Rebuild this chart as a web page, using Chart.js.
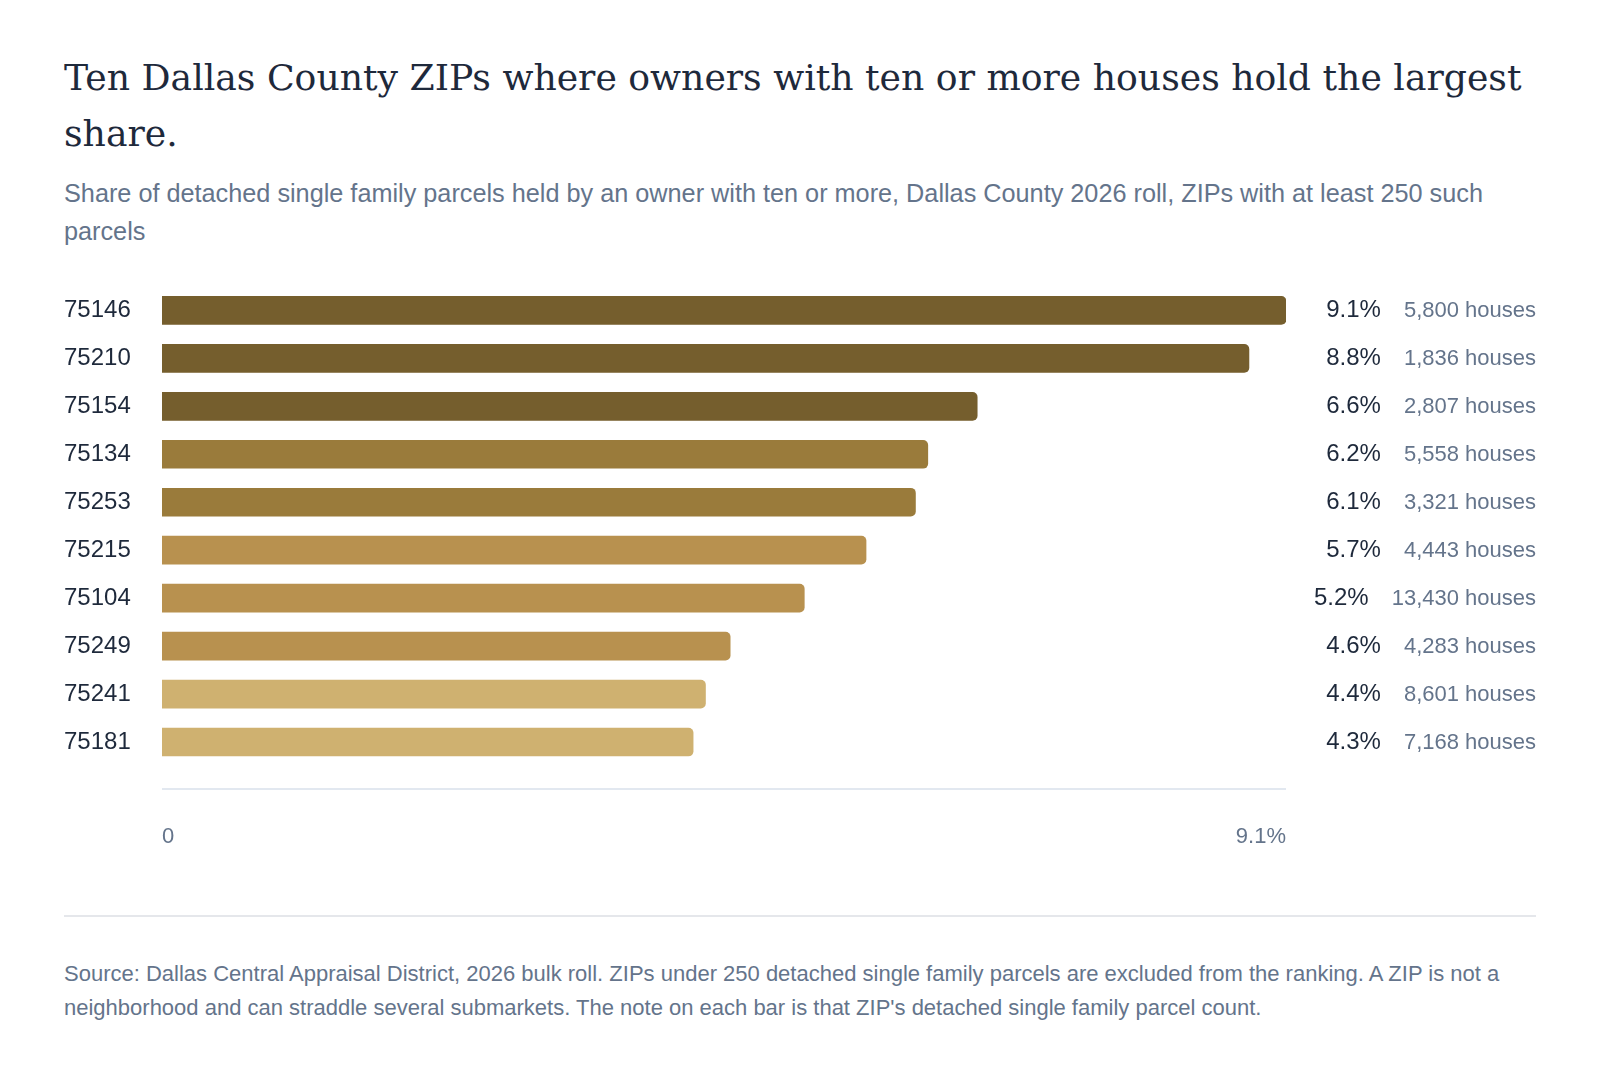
<!DOCTYPE html>
<html>
<head>
<meta charset="utf-8">
<script src="https://cdn.jsdelivr.net/npm/chart.js@4.4.1/dist/chart.umd.min.js"></script>
<style>
  html, body { margin: 0; padding: 0; background: #fff; }
  body { width: 1600px; height: 1068px; position: relative; overflow: hidden; font-family: "Liberation Sans", Arial, sans-serif; }
  h1 {
    position: absolute; left: 64px; top: 50px; width: 1472px; margin: 0;
    font-family: "DejaVu Serif", Georgia, serif; font-weight: normal;
    font-size: 36.2px; line-height: 56px; color: #1e293b;
  }
  .sub {
    position: absolute; left: 64px; top: 174px; width: 1472px; margin: 0;
    font-size: 25.25px; line-height: 38px; color: #64748b;
  }
  .chart-wrap { position: absolute; left: 64px; top: 272px; width: 1472px; height: 598px; }
  .rule { position: absolute; left: 64px; top: 915px; width: 1472px; height: 0; border-top: 2px solid #e5e7eb; }
  .note {
    position: absolute; left: 64px; top: 957px; width: 1472px; margin: 0;
    font-size: 22px; line-height: 34px; color: #64748b;
  }
</style>
</head>
<body>
<h1>Ten Dallas County ZIPs where owners with ten or more houses hold the largest share.</h1>
<p class="sub">Share of detached single family parcels held by an owner with ten or more, Dallas County 2026 roll, ZIPs with at least 250 such parcels</p>
<div class="chart-wrap"><canvas id="chart"></canvas></div>
<div class="rule"></div>
<p class="note">Source: Dallas Central Appraisal District, 2026 bulk roll. ZIPs under 250 detached single family parcels are excluded from the ranking. A ZIP is not a neighborhood and can straddle several submarkets. The note on each bar is that ZIP's detached single family parcel count.</p>

<script>
// Data
const zips = ['75146', '75210', '75154', '75134', '75253', '75215', '75104', '75249', '75241', '75181'];
const sharePct = [9.1, 8.8, 6.6, 6.2, 6.1, 5.7, 5.2, 4.6, 4.4, 4.3];
const houses = [5800, 1836, 2807, 5558, 3321, 4443, 13430, 4283, 8601, 7168];
const axisTicks = [0, 9.1];

// Shade steps: darker for the top of the ranking
const barColors = [
    '#755e2d', '#755e2d', '#755e2d',
    '#9a7b3b', '#9a7b3b',
    '#b8914f', '#b8914f', '#b8914f',
    '#cfb170', '#cfb170'
];

// Draws the percent + house count notes and the base line under the bars
const notesPlugin = {
    id: 'notes',
    afterDraw(chart) {
        const ctx = chart.ctx;
        const y = chart.scales.y;
        const area = chart.chartArea;
        const right = chart.width;

        // light rule under the bars
        ctx.save();
        ctx.strokeStyle = '#e2e8f0';
        ctx.lineWidth = 2;
        ctx.beginPath();
        ctx.moveTo(area.left, area.bottom + 23);
        ctx.lineTo(area.right, area.bottom + 23);
        ctx.stroke();

        ctx.textBaseline = 'middle';
        ctx.textAlign = 'right';
        zips.forEach((z, i) => {
            const py = y.getPixelForValue(i);
            const note = houses[i].toLocaleString('en-US') + ' houses';
            ctx.font = '22px "Liberation Sans", Arial, sans-serif';
            ctx.fillStyle = '#64748b';
            ctx.fillText(note, right, py + 1);
            const w = ctx.measureText(note).width;
            ctx.font = '24px "Liberation Sans", Arial, sans-serif';
            ctx.fillStyle = '#1e293b';
            ctx.fillText(sharePct[i].toFixed(1) + '%', right - w - 23, py);
        });
        ctx.restore();
    }
};

const ctx = document.getElementById('chart').getContext('2d');
new Chart(ctx, {
    type: 'bar',
    data: {
        labels: zips,
        datasets: [{
            data: sharePct,
            backgroundColor: barColors,
            barThickness: 28,
            borderSkipped: false,
            borderRadius: { topLeft: 0, bottomLeft: 0, topRight: 5, bottomRight: 5 }
        }]
    },
    options: {
        indexAxis: 'y',
        responsive: true,
        maintainAspectRatio: false,
        animation: false,
        layout: { padding: { top: 6, right: 250, bottom: 0, left: 0 } },
        plugins: {
            legend: { display: false },
            tooltip: { enabled: false }
        },
        scales: {
            x: {
                min: 0,
                max: 9.1,
                grid: { display: false, drawTicks: false },
                border: { display: false },
                afterBuildTicks: (scale) => {
                    scale.ticks = axisTicks.map(v => ({ value: v }));
                },
                afterFit: (scale) => { scale.height = 104; },
                ticks: {
                    align: 'inner',
                    padding: 58,
                    color: '#64748b',
                    font: { family: '"Liberation Sans", Arial, sans-serif', size: 22 },
                    callback: (v) => v === 0 ? '0' : v + '%'
                }
            },
            y: {
                grid: { display: false, drawTicks: false },
                border: { display: false },
                afterFit: (scale) => { scale.width = 98; },
                ticks: {
                    crossAlign: 'far',
                    padding: 0,
                    color: '#1e293b',
                    font: { family: '"Liberation Sans", Arial, sans-serif', size: 24 }
                }
            }
        }
    },
    plugins: [notesPlugin]
});
</script>
</body>
</html>
